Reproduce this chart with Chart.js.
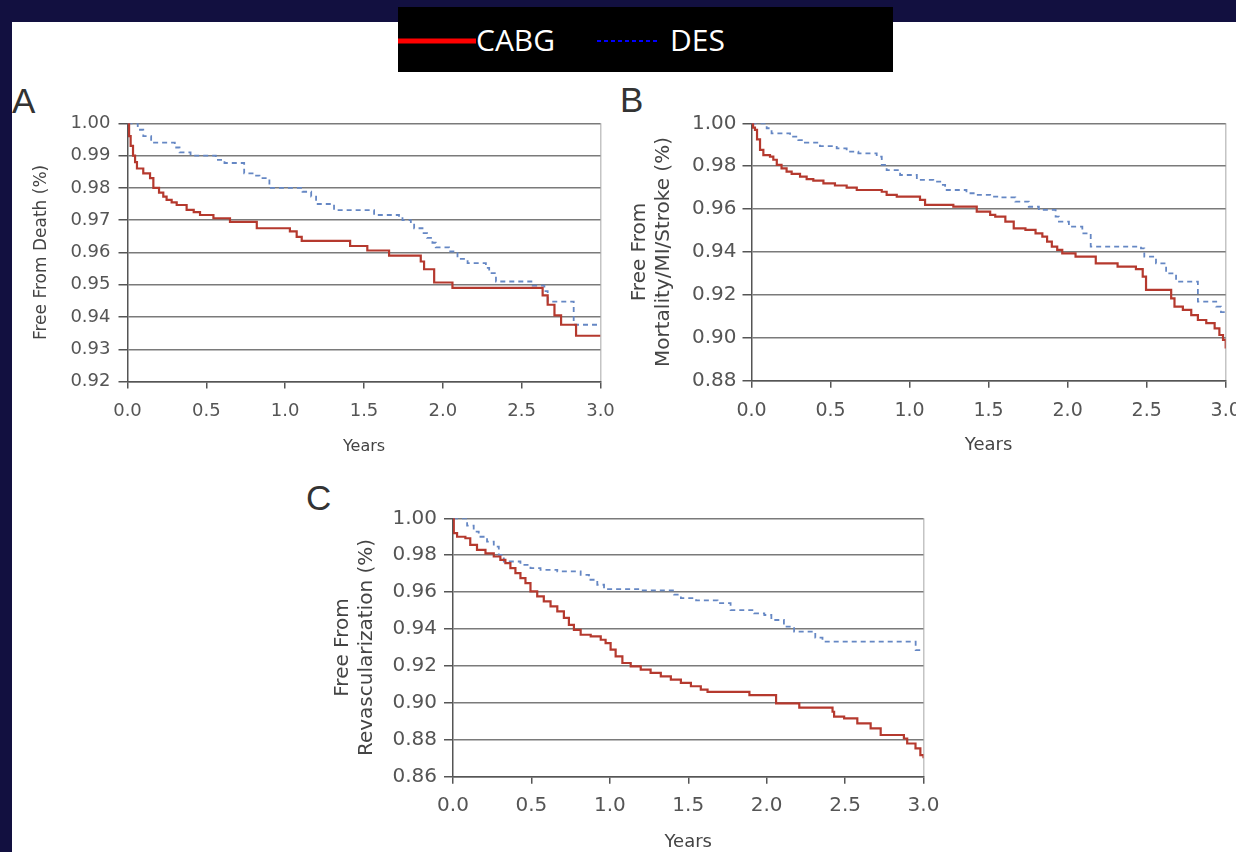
<!DOCTYPE html>
<html>
<head>
<meta charset="utf-8">
<script src="https://cdn.jsdelivr.net/npm/chart.js@4.4.1/dist/chart.umd.min.js"></script>
<style>
  html, body { margin: 0; padding: 0; }
  body { width: 1236px; height: 852px; overflow: hidden; background: #121040; position: relative; }
  #sheet { position: absolute; left: 12px; top: 22px; right: 0; bottom: 0; background: #fff; }
  canvas { position: absolute; }
  .letter { position: absolute; font-family: 'Liberation Sans', sans-serif; font-size: 35px; line-height: 35px; color: #333; }
  #legend { position: absolute; left: 398px; top: 7px; width: 495px; height: 65px; background: #000; }
  #legend span { position: absolute; top: 18px; font-family: 'Open Sans', sans-serif; font-size: 30px; line-height: 30px; color: #fff; }
  #legend svg { position: absolute; }
</style>
</head>
<body>
<div id="sheet"></div>

<div id="legend">
  <svg style="left:0;top:31px" width="78" height="6"><line x1="0" y1="3" x2="78" y2="3" stroke="#ff0000" stroke-width="5"/></svg>
  <span style="left:78px">CABG</span>
  <svg style="left:199px;top:32px" width="63" height="4"><line x1="0" y1="2" x2="63" y2="2" stroke="#0000ff" stroke-width="2" stroke-dasharray="4 3"/></svg>
  <span style="left:272px">DES</span>
</div>

<div class="letter" style="left:12px;top:83px">A</div>
<div class="letter" style="left:620px;top:82px">B</div>
<div class="letter" style="left:306px;top:480px">C</div>

<canvas id="chartA" width="615" height="380" style="left:12px;top:80px"></canvas>
<canvas id="chartB" width="660" height="380" style="left:600px;top:80px"></canvas>
<canvas id="chartC" width="660" height="377" style="left:300px;top:480px"></canvas>

<script>
// x tick labels (years)
var yearLabels = ['0.0', '0.5', '1.0', '1.5', '2.0', '2.5', '3.0'];
var yLabelsA = ['0.92', '0.93', '0.94', '0.95', '0.96', '0.97', '0.98', '0.99', '1.00'];
var yLabelsB = ['0.88', '0.90', '0.92', '0.94', '0.96', '0.98', '1.00'];
var yLabelsC = ['0.86', '0.88', '0.90', '0.92', '0.94', '0.96', '0.98', '1.00'];

// A: free from death
var aCabgT = [0, 0.01, 0.02, 0.035, 0.048, 0.06, 0.1, 0.143, 0.164, 0.2, 0.227, 0.248, 0.28, 0.312, 0.375, 0.42, 0.46, 0.545, 0.65, 0.82, 1.03, 1.073, 1.105, 1.412, 1.521, 1.659, 1.86, 1.881, 1.945, 2.061, 2.633, 2.665, 2.708, 2.75, 2.845, 3.0];
var aCabgS = [1.000, 0.996, 0.993, 0.990, 0.988, 0.986, 0.9845, 0.983, 0.980, 0.9785, 0.9773, 0.9763, 0.9755, 0.9747, 0.9732, 0.9725, 0.9716, 0.9706, 0.9695, 0.9675, 0.9665, 0.9648, 0.9636, 0.962, 0.9606, 0.959, 0.9572, 0.9548, 0.9507, 0.949, 0.9467, 0.9438, 0.9405, 0.9376, 0.9342, 0.9342];
var aDesT = [0, 0.065, 0.10, 0.15, 0.30, 0.33, 0.40, 0.56, 0.615, 0.74, 0.80, 0.837, 0.90, 1.11, 1.165, 1.196, 1.31, 1.564, 1.722, 1.744, 1.797, 1.818, 1.871, 1.90, 1.934, 1.955, 2.04, 2.093, 2.157, 2.273, 2.294, 2.337, 2.57, 2.644, 2.665, 2.83, 3.0];
var aDesS = [1.000, 0.998, 0.996, 0.994, 0.9925, 0.991, 0.990, 0.9887, 0.9877, 0.9845, 0.9838, 0.983, 0.980, 0.9788, 0.9773, 0.975, 0.9731, 0.9716, 0.9706, 0.970, 0.969, 0.9675, 0.966, 0.9645, 0.963, 0.9616, 0.9603, 0.958, 0.9567, 0.9552, 0.9536, 0.951, 0.9497, 0.948, 0.9448, 0.9376, 0.9376];

// B: free from mortality/MI/stroke
var bCabgT = [0, 0.01, 0.022, 0.035, 0.054, 0.075, 0.117, 0.138, 0.16, 0.19, 0.222, 0.254, 0.307, 0.349, 0.391, 0.455, 0.528, 0.602, 0.666, 0.824, 0.855, 0.919, 1.066, 1.098, 1.277, 1.425, 1.51, 1.542, 1.606, 1.659, 1.733, 1.797, 1.84, 1.87, 1.90, 1.934, 1.966, 2.05, 2.178, 2.316, 2.432, 2.475, 2.496, 2.655, 2.676, 2.729, 2.782, 2.824, 2.877, 2.93, 2.96, 2.983, 3.0];
var bCabgS = [1.000, 0.998, 0.9969, 0.9925, 0.9876, 0.9852, 0.9845, 0.983, 0.9806, 0.979, 0.9775, 0.9764, 0.9751, 0.974, 0.9733, 0.972, 0.971, 0.970, 0.9689, 0.9681, 0.9666, 0.9658, 0.9643, 0.962, 0.9612, 0.9588, 0.9573, 0.9565, 0.9542, 0.951, 0.9503, 0.9487, 0.9472, 0.9448, 0.9425, 0.941, 0.9394, 0.9378, 0.9347, 0.9332, 0.932, 0.9285, 0.9223, 0.9184, 0.9145, 0.913, 0.9106, 0.9083, 0.9068, 0.9044, 0.9013, 0.899, 0.895];
var bDesT = [0, 0.096, 0.127, 0.244, 0.296, 0.338, 0.433, 0.539, 0.602, 0.676, 0.792, 0.824, 0.855, 0.94, 1.046, 1.15, 1.203, 1.225, 1.36, 1.425, 1.51, 1.574, 1.669, 1.754, 1.818, 1.924, 1.945, 2.008, 2.093, 2.146, 2.464, 2.485, 2.559, 2.623, 2.686, 2.824, 2.94, 2.97, 3.0];
var bDesS = [1.000, 0.9977, 0.9953, 0.9938, 0.9922, 0.991, 0.9894, 0.9883, 0.9868, 0.986, 0.9845, 0.9806, 0.9782, 0.9759, 0.9736, 0.9728, 0.9713, 0.9689, 0.9674, 0.9666, 0.9658, 0.9655, 0.9635, 0.9611, 0.9596, 0.9565, 0.9542, 0.9518, 0.9487, 0.9425, 0.9417, 0.9378, 0.9347, 0.930, 0.9262, 0.9169, 0.9145, 0.912, 0.912];

// C: free from revascularization
var cCabgT = [0, 0.005, 0.026, 0.079, 0.11, 0.153, 0.207, 0.26, 0.302, 0.334, 0.366, 0.398, 0.43, 0.462, 0.494, 0.537, 0.579, 0.622, 0.665, 0.707, 0.739, 0.771, 0.814, 0.878, 0.942, 0.973, 1.005, 1.037, 1.08, 1.133, 1.197, 1.26, 1.325, 1.389, 1.453, 1.517, 1.58, 1.623, 1.89, 2.06, 2.208, 2.42, 2.43, 2.494, 2.578, 2.663, 2.727, 2.875, 2.896, 2.949, 2.98, 3.0];
var cCabgS = [1.000, 0.992, 0.990, 0.9892, 0.9856, 0.9829, 0.981, 0.9793, 0.9775, 0.9757, 0.973, 0.9703, 0.9676, 0.9649, 0.9604, 0.9577, 0.955, 0.9523, 0.9496, 0.946, 0.9423, 0.9396, 0.9369, 0.936, 0.9342, 0.9324, 0.9288, 0.9252, 0.9216, 0.9198, 0.918, 0.9162, 0.9144, 0.9126, 0.9108, 0.909, 0.9072, 0.906, 0.9042, 0.8997, 0.8974, 0.8952, 0.8925, 0.8916, 0.8889, 0.8862, 0.8826, 0.8807, 0.878, 0.8753, 0.8717, 0.870];
var cDesT = [0, 0.09, 0.132, 0.164, 0.217, 0.26, 0.292, 0.324, 0.43, 0.494, 0.558, 0.665, 0.814, 0.867, 0.92, 0.963, 1.197, 1.41, 1.453, 1.55, 1.687, 1.77, 1.92, 1.985, 2.03, 2.11, 2.175, 2.31, 2.356, 2.95, 3.0];
var cDesS = [1.000, 0.996, 0.9928, 0.990, 0.9874, 0.9847, 0.9802, 0.9766, 0.9748, 0.973, 0.9721, 0.9712, 0.9694, 0.9667, 0.964, 0.9616, 0.9609, 0.9586, 0.9568, 0.9555, 0.954, 0.9503, 0.9485, 0.9476, 0.9449, 0.9413, 0.9386, 0.9353, 0.9332, 0.9286, 0.9286];

function toPoints(t, s) {
    return t.map(function(v, i) { return {x: v, y: s[i]}; });
}

function makePanel(id, p) {
    var ctx = document.getElementById(id).getContext('2d');
    return new Chart(ctx, {
        type: 'line',
        data: {
            datasets: [{
                label: 'CABG',
                data: toPoints(p.cabgT, p.cabgS),
                stepped: true,
                borderColor: '#b5392e',
                borderWidth: 2.2,
                pointRadius: 0,
                fill: false
            }, {
                label: 'DES',
                data: toPoints(p.desT, p.desS),
                stepped: true,
                borderColor: '#6587c4',
                borderWidth: 1.8,
                borderDash: [5, 4],
                pointRadius: 0,
                fill: false
            }]
        },
        options: {
            responsive: false,
            animation: false,
            layout: { padding: { left: p.padLeft, top: p.padTop, right: p.padRight, bottom: 0 } },
            plugins: { legend: { display: false }, tooltip: { enabled: false } },
            scales: {
                x: {
                    type: 'linear',
                    min: 0,
                    max: 3,
                    afterFit: function(scale) { scale.height = p.xH; },
                    ticks: {
                        stepSize: 0.5,
                        maxRotation: 0,
                        autoSkip: false,
                        padding: p.xPad,
                        color: '#555',
                        font: { family: 'DejaVu Sans', size: p.xFont },
                        callback: function(v, i) { return yearLabels[i] || v.toFixed(1); }
                    },
                    grid: {
                        drawOnChartArea: true,
                        color: function(c) { return c.tick && c.tick.value === 3 ? '#c4c4c4' : 'rgba(0,0,0,0)'; },
                        lineWidth: 1.5,
                        tickLength: 7,
                        tickColor: '#555',
                        tickWidth: 1.5
                    },
                    border: { color: '#555', width: 1.5 },
                    title: {
                        display: true,
                        text: 'Years',
                        color: '#444',
                        font: { family: 'DejaVu Sans', size: p.yearsFont }
                    }
                },
                y: {
                    min: p.yMin,
                    max: 1,
                    afterFit: function(scale) { scale.width = p.yW; },
                    ticks: {
                        stepSize: p.yStep,
                        autoSkip: false,
                        padding: p.yPad,
                        color: '#555',
                        font: { family: 'DejaVu Sans', size: p.yFont },
                        callback: function(v, i) { return p.yLabels[i] || v.toFixed(2); }
                    },
                    grid: {
                        color: '#7a7a7a',
                        lineWidth: 1.5,
                        tickLength: 9,
                        tickColor: '#555',
                        tickWidth: 1.5
                    },
                    border: { color: '#555', width: 1.5 },
                    title: {
                        display: true,
                        text: p.yTitle,
                        color: '#444',
                        font: { family: 'DejaVu Sans', size: p.titleFont }
                    }
                }
            }
        }
    });
}

makePanel('chartA', {
    cabgT: aCabgT, cabgS: aCabgS, desT: aDesT, desS: aDesS,
    yMin: 0.92, yStep: 0.01, yLabels: yLabelsA,
    yTitle: 'Free From Death (%)',
    padLeft: 15, padTop: 43.3, padRight: 26.5, yW: 100.5, xH: 78.4,
    yPad: 8, xPad: 12, yFont: 18, xFont: 18, titleFont: 17, yearsFont: 16
});

makePanel('chartB', {
    cabgT: bCabgT, cabgS: bCabgS, desT: bDesT, desS: bDesS,
    yMin: 0.88, yStep: 0.02, yLabels: yLabelsB,
    yTitle: ['Free From', 'Mortality/MI/Stroke (%)'],
    padLeft: 24, padTop: 43.3, padRight: 34.3, yW: 127.5, xH: 79.3,
    yPad: 6, xPad: 12, yFont: 20, xFont: 19, titleFont: 20, yearsFont: 18
});

makePanel('chartC', {
    cabgT: cCabgT, cabgS: cCabgS, desT: cDesT, desS: cDesS,
    yMin: 0.86, yStep: 0.02, yLabels: yLabelsC,
    yTitle: ['Free From', 'Revascularization (%)'],
    padLeft: 27, padTop: 38.3, padRight: 36.5, yW: 126, xH: 80.3,
    yPad: 7, xPad: 10, yFont: 20, xFont: 20, titleFont: 20, yearsFont: 18
});
</script>
</body>
</html>
